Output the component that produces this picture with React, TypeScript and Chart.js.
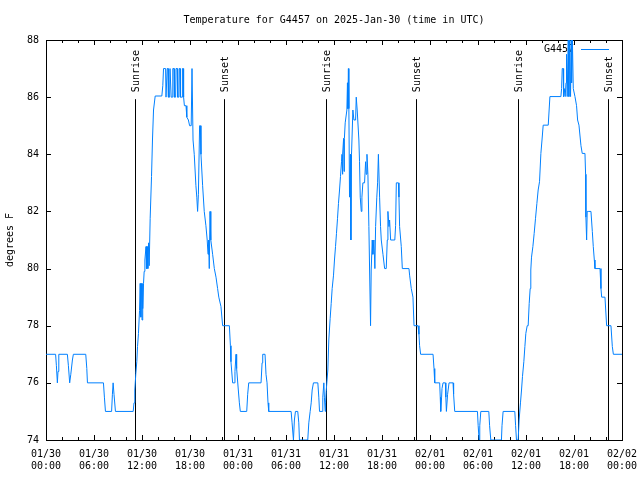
import React, { useEffect, useRef } from "react";
import { Chart, registerables } from "chart.js";

Chart.register(...registerables);

// ---------- text ----------
const STATION = "G4457";
const TITLE = "Temperature for G4457 on 2025-Jan-30 (time in UTC)";
const Y_TITLE = "degrees F";

// ---------- axes (hours since 2025-01-30 00:00 UTC, degrees F) ----------
const X_MIN = 0;
const X_MAX = 72;
const X_MAJOR_STEP = 6;
const X_MINOR_STEP = 2;
const Y_MIN = 74;
const Y_MAX = 88;
const Y_STEP = 2;
const X_LABEL_DATES = ["01/30", "01/30", "01/30", "01/30", "01/31", "01/31", "01/31", "01/31", "02/01", "02/01", "02/01", "02/01", "02/02"];
const X_LABEL_TIMES = ["00:00", "06:00", "12:00", "18:00", "00:00", "06:00", "12:00", "18:00", "00:00", "06:00", "12:00", "18:00", "00:00"];

// ---------- sunrise / sunset markers ----------
const SUN_EVENT_HOURS = [11.12, 22.21, 35.0, 46.25, 59.0, 70.25];
const SUN_EVENT_LABELS = ["Sunrise", "Sunset", "Sunrise", "Sunset", "Sunrise", "Sunset"];
const SUN_LINE_TOP_F = 85.93;

// ---------- observations: [hour, temperature F] ----------
const NIGHT1: [number, number][] = [
  [0, 77], [1.2, 77], [1.3, 76.6], [1.42, 76], [1.5, 76.4], [1.6, 77], [2.67, 77], [2.8, 76.6],
  [2.96, 76], [3.1, 76.3], [3.3, 76.8], [3.42, 77], [4.97, 77], [5.1, 76.5], [5.18, 76], [7.18, 76],
  [7.3, 75.5], [7.43, 75], [8.2, 75], [8.3, 75.6], [8.39, 76], [8.5, 75.6], [8.68, 75], [10.9, 75],
];
const DAY1: [number, number][] = [
  [11.0, 75.3], [11.1, 75.75], [11.23, 76.33], [11.35, 76.74], [11.44, 77.27], [11.56, 77.73],
  [11.69, 78.53], [11.77, 79.48], [11.85, 78.3], [11.94, 79.48], [12.0, 78.2], [12.06, 79.48],
  [12.12, 78.6], [12.19, 79.48], [12.27, 79.9], [12.36, 80.3], [12.5, 80.77], [12.56, 80.0],
  [12.65, 80.77], [12.73, 80.0], [12.82, 80.9], [12.9, 80.1], [13.02, 81.76], [13.19, 83.22],
  [13.31, 84.5], [13.44, 85.55], [13.65, 86.04], [14.48, 86.04], [14.6, 86.4], [14.69, 87],
  [14.95, 87], [15.0, 86], [15.1, 86], [15.15, 87], [15.25, 87], [15.3, 86], [15.45, 86], [15.5, 87],
  [15.6, 87], [15.65, 86], [15.8, 86], [15.85, 87], [16.0, 87], [16.05, 86], [16.2, 86], [16.25, 87],
  [16.4, 87], [16.45, 86], [16.6, 86], [16.65, 87], [16.75, 87], [16.8, 86], [17.0, 86], [17.05, 87],
  [17.15, 87], [17.2, 86], [17.3, 85.7], [17.5, 85.7], [17.6, 85.3], [17.8, 85.2], [17.95, 85.0],
  [18.15, 85.0], [18.25, 87.0], [18.32, 87.0], [18.38, 84.5], [18.53, 84.0], [18.74, 82.9],
  [18.85, 82.5], [18.95, 82.0], [19.05, 82.6], [19.2, 85.0], [19.3, 85.0], [19.37, 84.0],
  [19.58, 82.9], [19.78, 82.0], [19.99, 81.5], [20.15, 81.0], [20.25, 80.5], [20.33, 81.0],
  [20.41, 80.0], [20.5, 82.0], [20.6, 81.0], [20.83, 80.5], [21.04, 80.0], [21.25, 79.7],
  [21.45, 79.3], [21.6, 79.0], [21.87, 78.67], [22.08, 78.0], [22.92, 78.0], [23.05, 77.3],
  [23.12, 76.74], [23.33, 76.0],
];
const NIGHT2: [number, number][] = [
  [23.54, 76.0], [23.62, 76.4], [23.75, 77.0], [23.83, 76.5], [24.04, 75.75], [24.17, 75.3],
  [24.29, 75.0], [25.09, 75.0], [25.21, 75.6], [25.34, 76.0], [26.88, 76.0], [27.01, 76.7],
  [27.09, 77.0], [27.38, 77.0], [27.5, 76.3], [27.63, 76.0], [27.75, 75.3], [27.84, 75.0],
  [30.64, 75.0], [30.76, 74.6], [30.93, 74.0], [31.05, 74.7], [31.18, 75.0], [31.47, 75.0],
  [31.6, 74.6], [31.68, 74.0], [32.72, 74.0], [32.85, 74.6], [33.02, 75.0], [33.15, 75.3],
  [33.27, 75.75], [33.43, 76.0], [33.98, 76.0], [34.1, 75.5], [34.19, 75.0], [34.52, 75.0],
  [34.6, 75.5], [34.73, 76.0], [34.8, 75.5], [34.9, 75.0],
];
const DAY2: [number, number][] = [
  [34.95, 75.3], [35.02, 75.7], [35.23, 76.45], [35.35, 77.5], [35.52, 78.26], [35.65, 78.78],
  [35.77, 79.3], [35.94, 79.77], [36.06, 80.3], [36.19, 80.77], [36.31, 81.23], [36.44, 81.76],
  [36.56, 82.28], [36.69, 82.75], [36.81, 83.22], [36.94, 83.74], [37.0, 84.0], [37.05, 83.3],
  [37.11, 84.0], [37.2, 84.56], [37.25, 83.4], [37.3, 84.56], [37.4, 85.1], [37.61, 85.55],
  [37.68, 86.5], [37.73, 85.6], [37.8, 87.0], [37.86, 85.6], [37.94, 82.5], [38.05, 84.0],
  [38.11, 81.0], [38.19, 84.0], [38.36, 85.55], [38.49, 85.2], [38.7, 85.2], [38.78, 86.0],
  [38.9, 85.55], [39.11, 84.5], [39.19, 83.74], [39.28, 82.5], [39.41, 82.0], [39.49, 82.5],
  [39.61, 83.0], [39.82, 83.0], [39.95, 83.74], [40.03, 83.3], [40.12, 84.0], [40.24, 83.3],
  [40.36, 81.47], [40.45, 79.95], [40.57, 78.0], [40.65, 79.95], [40.78, 81.0], [40.86, 80.5],
  [40.99, 81.0], [41.11, 80.0], [41.2, 81.47], [41.35, 82.5], [41.45, 83.0], [41.55, 84.0],
  [41.62, 84.0], [41.7, 82.5], [41.82, 81.47], [41.91, 81.0], [42.12, 80.5], [42.33, 80.0],
  [42.53, 80.0], [42.66, 81.0], [42.74, 82.0], [42.87, 81.47], [42.95, 81.7], [43.08, 81.0],
  [43.6, 81.0], [43.7, 81.5], [43.79, 83.0], [44.05, 83.0], [44.12, 82.5], [44.2, 81.47],
  [44.41, 80.77], [44.54, 80.0], [45.37, 80.0], [45.45, 79.77], [45.66, 79.3], [45.87, 79.0],
  [46.0, 78.0], [46.5, 78.0], [46.62, 77.7], [46.7, 77.3], [46.83, 77.0],
];
const NIGHT3: [number, number][] = [
  [48.38, 77.0], [48.5, 76.5], [48.59, 76.0], [49.21, 76.0], [49.28, 75.5], [49.34, 75.0],
  [49.45, 75.5], [49.5, 75.8], [49.63, 76.0], [49.92, 76.0], [49.98, 75.5], [50.05, 75.0],
  [50.2, 75.6], [50.38, 76.0], [50.88, 76.0], [50.95, 75.6], [51.09, 75.0], [53.93, 75.0],
  [54.02, 74.5], [54.14, 74.0], [54.22, 74.5], [54.35, 75.0], [55.35, 75.0], [55.45, 74.5],
  [55.6, 74.0], [56.93, 74.0], [57.0, 74.5], [57.14, 75.0], [58.6, 75.0], [58.7, 74.5],
  [58.81, 74.0], [59.02, 74.0],
];
const DAY3: [number, number][] = [
  [59.14, 74.7], [59.31, 75.3], [59.44, 75.75], [59.56, 76.22], [59.73, 76.74], [59.86, 77.27],
  [59.98, 77.73], [60.15, 78.0], [60.27, 78.0], [60.4, 78.78], [60.52, 79.3], [60.6, 79.95],
  [60.69, 80.4], [60.86, 80.77], [61.02, 81.23], [61.19, 81.76], [61.36, 82.28], [61.52, 82.75],
  [61.69, 83.04], [61.86, 84.03], [62.0, 84.5], [62.15, 85.02], [62.78, 85.02], [62.99, 86.02],
  [64.36, 86.02], [64.45, 86.3], [64.53, 87.0], [64.65, 87.0], [64.7, 86.02], [64.78, 86.3],
  [64.9, 86.02], [65.0, 86.5], [65.07, 87.5], [65.15, 86.02], [65.28, 88.0], [65.36, 86.02],
  [65.45, 88.0], [65.57, 86.02], [65.65, 88.0], [65.7, 86.5], [65.8, 88.0], [65.91, 86.3],
  [66.12, 86.02], [66.32, 85.7], [66.45, 85.2], [66.62, 85.02], [66.87, 84.3], [67.03, 84.03],
  [67.37, 84.03], [67.45, 83.3], [67.49, 81.8], [67.58, 81.0], [67.65, 82.0], [67.78, 82.0],
  [68.12, 82.0], [68.29, 81.3], [68.41, 80.77], [68.54, 80.3], [68.62, 80.0], [69.25, 80.0],
  [69.37, 79.3], [69.46, 79.0], [69.87, 79.0], [70.08, 78.0], [70.62, 78.0], [70.79, 77.27],
  [70.92, 77.0], [72, 77.0],
];

// ---------- style ----------
const FONT_FAMILY = "'DejaVu Sans Mono', 'Liberation Mono', monospace";
const LINE_COLOR = "#0080ff";

const frameAndMarkers = {
  id: "frameAndMarkers",
  beforeDatasetsDraw(chart: any) {
    const { ctx, chartArea: a, scales } = chart;
    const x = scales.x;
    const y = scales.y;
    ctx.save();
    ctx.strokeStyle = "#000";
    ctx.fillStyle = "#000";
    ctx.lineWidth = 1;
    ctx.font = `10px ${FONT_FAMILY}`;

    // border
    ctx.strokeRect(Math.round(a.left) + 0.5, Math.round(a.top) + 0.5, Math.round(a.right - a.left), Math.round(a.bottom - a.top));

    // x ticks (inward, bottom and top)
    ctx.beginPath();
    for (let h = X_MIN; h <= X_MAX; h += X_MINOR_STEP) {
      const px = Math.round(x.getPixelForValue(h)) + 0.5;
      const len = h % X_MAJOR_STEP === 0 ? 5 : 3;
      ctx.moveTo(px, a.bottom);
      ctx.lineTo(px, a.bottom - len);
      ctx.moveTo(px, a.top);
      ctx.lineTo(px, a.top + len);
    }
    // y ticks (inward, left and right)
    for (let v = Y_MIN; v <= Y_MAX; v += Y_STEP) {
      const py = Math.round(y.getPixelForValue(v)) + 0.5;
      ctx.moveTo(a.left, py);
      ctx.lineTo(a.left + 5, py);
      ctx.moveTo(a.right, py);
      ctx.lineTo(a.right - 5, py);
    }
    ctx.stroke();

    // sunrise / sunset markers
    const top = y.getPixelForValue(SUN_LINE_TOP_F);
    SUN_EVENT_HOURS.forEach((h, i) => {
      const px = Math.round(x.getPixelForValue(h)) + 0.5;
      ctx.beginPath();
      ctx.moveTo(px, top);
      ctx.lineTo(px, a.bottom);
      ctx.stroke();
      ctx.save();
      ctx.translate(px + 1, top - 7);
      ctx.rotate(-Math.PI / 2);
      ctx.textAlign = "left";
      ctx.textBaseline = "middle";
      ctx.fillText(SUN_EVENT_LABELS[i], 0, 0);
      ctx.restore();
    });

    // key
    const ky = Math.round(a.top + 9) + 0.5;
    ctx.textAlign = "right";
    ctx.textBaseline = "middle";
    ctx.fillText(STATION, a.right - 48, ky);
    ctx.strokeStyle = LINE_COLOR;
    ctx.beginPath();
    ctx.moveTo(a.right - 41, ky);
    ctx.lineTo(a.right - 13, ky);
    ctx.stroke();
    ctx.restore();
  },
  afterDraw(chart: any) {
    const { ctx, chartArea: a } = chart;
    ctx.save();
    ctx.fillStyle = "#000";
    ctx.font = `10px ${FONT_FAMILY}`;
    ctx.textAlign = "center";
    ctx.textBaseline = "middle";
    ctx.fillText(TITLE, (a.left + a.right) / 2, 20);
    ctx.translate(10, (a.top + a.bottom) / 2);
    ctx.rotate(-Math.PI / 2);
    ctx.fillText(Y_TITLE, 0, 0);
    ctx.restore();
  },
};

export default function App() {
  const canvasRef = useRef<HTMLCanvasElement | null>(null);

  useEffect(() => {
    const canvas = canvasRef.current;
    if (!canvas) return;
    const points = [...NIGHT1, ...DAY1, ...NIGHT2, ...DAY2, ...NIGHT3, ...DAY3].map(([h, t]) => ({ x: h, y: t }));

    const chart = new Chart(canvas, {
      type: "line",
      data: {
        datasets: [
          {
            label: STATION,
            data: points,
            borderColor: LINE_COLOR,
            backgroundColor: LINE_COLOR,
            borderWidth: 1,
            pointRadius: 0,
            tension: 0,
            fill: false,
          },
        ],
      },
      options: {
        animation: false,
        responsive: false,
        devicePixelRatio: 1,
        events: [],
        layout: { padding: { left: 0, top: 40, right: 18, bottom: 0 } },
        plugins: {
          legend: { display: false },
          title: { display: false },
          tooltip: { enabled: false },
        },
        scales: {
          x: {
            type: "linear",
            min: X_MIN,
            max: X_MAX,
            grid: { display: false, drawTicks: false },
            border: { display: false },
            afterFit: (scale: any) => {
              scale.height = 40;
              scale.paddingLeft = 0;
              scale.paddingRight = 0;
            },
            afterBuildTicks: (scale: any) => {
              scale.ticks = X_LABEL_DATES.map((_, i) => ({ value: X_MIN + i * X_MAJOR_STEP }));
            },
            ticks: {
              autoSkip: false,
              maxRotation: 0,
              minRotation: 0,
              padding: 8,
              color: "#000",
              font: { family: FONT_FAMILY, size: 10, lineHeight: 1.25 },
              callback: (value: any) => {
                const i = Math.round((Number(value) - X_MIN) / X_MAJOR_STEP);
                return [X_LABEL_DATES[i], X_LABEL_TIMES[i]];
              },
            },
          },
          y: {
            type: "linear",
            min: Y_MIN,
            max: Y_MAX,
            grid: { display: false, drawTicks: false },
            border: { display: false },
            afterFit: (scale: any) => {
              scale.width = 46;
              scale.paddingTop = 0;
              scale.paddingBottom = 0;
            },
            ticks: {
              stepSize: Y_STEP,
              padding: 7,
              color: "#000",
              font: { family: FONT_FAMILY, size: 10 },
            },
          },
        },
      },
      plugins: [frameAndMarkers],
    });

    return () => chart.destroy();
  }, []);

  return (
    <div style={{ position: "fixed", left: 0, top: 0, width: 640, height: 480, background: "#fff" }}>
      <canvas ref={canvasRef} width={640} height={480} style={{ display: "block", width: 640, height: 480 }} />
    </div>
  );
}
